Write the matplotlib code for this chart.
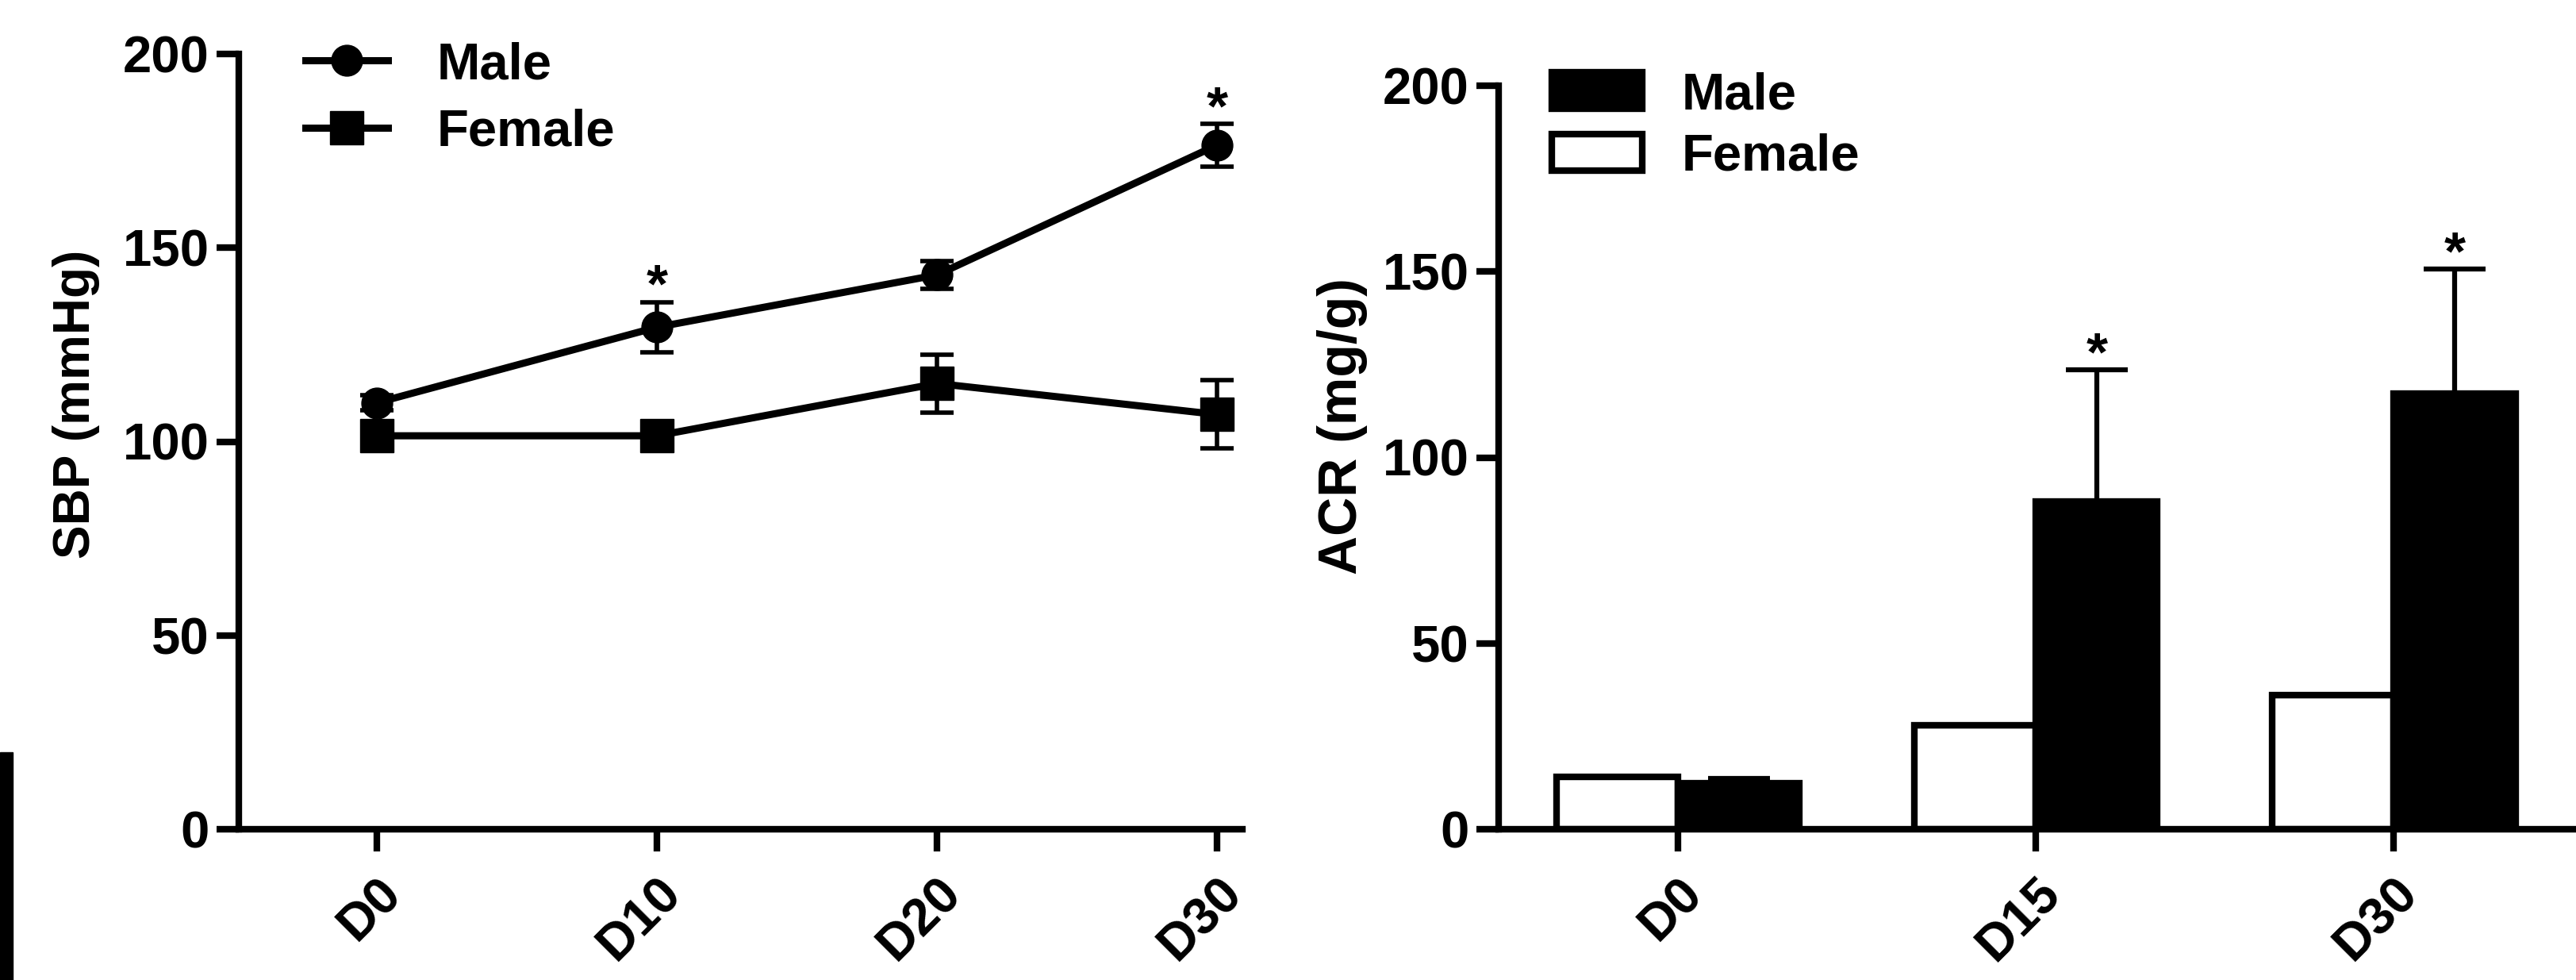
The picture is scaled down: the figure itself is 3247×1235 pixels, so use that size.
import matplotlib
matplotlib.use("Agg")
import matplotlib.pyplot as plt
from matplotlib.patches import Rectangle
import numpy as np

plt.rcParams['font.family'] = ['Liberation Sans', 'DejaVu Sans']
plt.rcParams['font.weight'] = 'bold'
plt.rcParams['axes.labelweight'] = 'bold'

# left panel - systolic blood pressure
sbp_days = [0, 10, 20, 30]
sbp_ticklabels = ['D0', 'D10', 'D20', 'D30']
sbp_male = [110, 129.5, 143, 176.5]
sbp_male_err = [2, 6.5, 3.5, 5.5]
sbp_female = [101.5, 101.5, 115, 107]
sbp_female_err = [1.5, 1.5, 7.5, 8.8]
sbp_star_idx = [1, 3]

# right panel - albumin/creatinine ratio
acr_groups = ['D0', 'D15', 'D30']
acr_male = [12.3, 88.2, 117.2]
acr_male_err = [1.3, 35.4, 33.5]
acr_female = [14, 28, 36]
acr_star_idx = [1, 2]

W, H = 3248, 1235
fig = plt.figure(figsize=(W / 100, H / 100), dpi=100)
ax1 = fig.add_axes([301 / W, 190 / H, 1265 / W, 977 / H])
ax2 = fig.add_axes([1889 / W, 190 / H, 1356 / W, 937 / H])


def style(ax):
    for s in ['top', 'right']:
        ax.spines[s].set_visible(False)
    for s in ['left', 'bottom']:
        ax.spines[s].set_linewidth(6)
    ax.tick_params(length=20, width=6, labelsize=47, pad=7)
    ax.tick_params(axis='x', pad=16)
    ax.set_ylim(0, 200)
    ax.set_yticks([0, 50, 100, 150, 200])


# SBP line plot
style(ax1)
ax1.errorbar(sbp_days, sbp_male, yerr=sbp_male_err, fmt='none', ecolor='k',
             elinewidth=4, capsize=15, capthick=4, clip_on=False)
ax1.errorbar(sbp_days, sbp_female, yerr=sbp_female_err, fmt='none', ecolor='k',
             elinewidth=4, capsize=15, capthick=4, clip_on=False)
ax1.plot(sbp_days, sbp_male, '-o', color='k', lw=6.5, ms=28, label='Male', clip_on=False)
ax1.plot(sbp_days, sbp_female, '-s', color='k', lw=6.5, ms=30, label='Female', clip_on=False)
for i in sbp_star_idx:
    ax1.text(sbp_days[i], sbp_male[i] + sbp_male_err[i], '*', ha='center',
             va='baseline', fontsize=50)
ax1.set_xlim(-4.92, 30.9)
ax1.set_xticks(sbp_days)
ax1.set_xticklabels(sbp_ticklabels, rotation=45, ha='right', va='top',
                    rotation_mode='anchor')
ax1.set_ylabel('SBP (mmHg)', fontsize=46)
ax1.yaxis.set_label_coords(-0.138, 0.548)
ax1.legend(loc='upper left', bbox_to_anchor=(385 / W, 1 - 52 / H),
           bbox_transform=fig.transFigure, frameon=False, fontsize=47,
           borderpad=0, borderaxespad=0, handlelength=1.6, handletextpad=0.94,
           labelspacing=0.38, numpoints=1)

# ACR bar chart
style(ax2)
x = np.arange(len(acr_groups))
w = 0.34
ax2.bar(x - w / 2, acr_female, w, color='white', edgecolor='k', lw=6, label='Female')
ax2.bar(x + w / 2, acr_male, w, color='k', edgecolor='k', lw=6, label='Male',
        yerr=[np.zeros(len(acr_male)), acr_male_err], capsize=28,
        error_kw=dict(elinewidth=4.5, capthick=4.5, ecolor='k'))
for i in acr_star_idx:
    ax2.text(x[i] + w / 2, acr_male[i] + acr_male_err[i], '*', ha='center',
             va='baseline', fontsize=50)
ax2.set_xlim(-0.501, 2.505)
ax2.set_xticks(x)
ax2.set_xticklabels(acr_groups, rotation=45, ha='right', va='top',
                    rotation_mode='anchor')
ax2.set_ylabel('ACR (mg/g)', fontsize=49)
ax2.yaxis.set_label_coords(-0.122, 0.542)
h, l = ax2.get_legend_handles_labels()
ax2.legend(h[::-1], l[::-1], loc='upper left', bbox_to_anchor=(1956 / W, 1 - 90 / H),
           bbox_transform=fig.transFigure, frameon=False, fontsize=47,
           borderpad=0, borderaxespad=0, handlelength=1.75, handleheight=0.7,
           handletextpad=0.75, labelspacing=0.27)

# dark strip at the lower left edge of the original image
fig.patches.append(Rectangle((0, 0), 16 / W, (H - 948) / H, transform=fig.transFigure,
                             color='k'))

fig.savefig('out.png', dpi=100)
